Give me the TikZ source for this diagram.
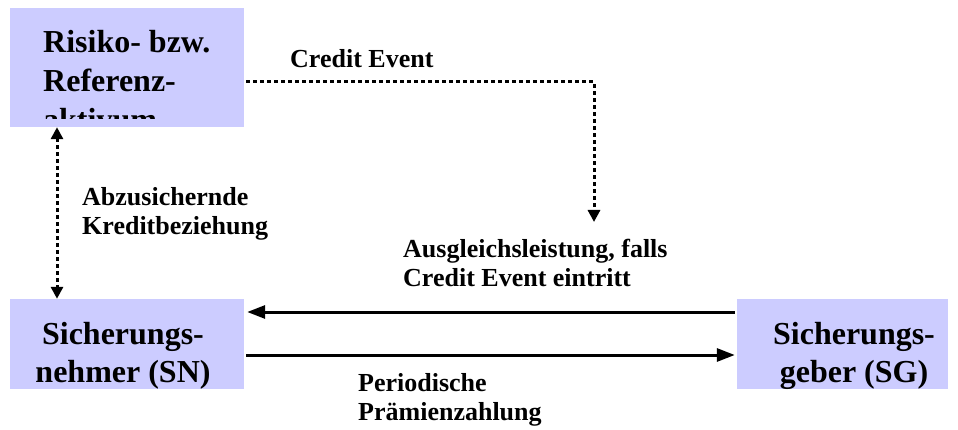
\documentclass[tikz,border=0pt]{standalone}
\usepackage{fontspec}
\setmainfont{Liberation Serif}
\usetikzlibrary{arrows.meta,positioning}
\definecolor{boxcolor}{RGB}{204,204,255}

\begin{document}
\begin{tikzpicture}[x=1pt,y=-1pt,font=\bfseries]
 \tikzstyle{party}=[fill=boxcolor,inner sep=0pt,minimum height=90pt]
 \tikzstyle{partytext}=[font=\bfseries\fontsize{32}{38}\selectfont,align=center,inner sep=0pt]
 \tikzstyle{flowtext}=[font=\bfseries\fontsize{26}{29}\selectfont,align=left,anchor=base west,inner sep=0pt]
 \tikzstyle{flow}=[line width=3pt,-{Triangle[length=18pt,width=13pt]}]
 \tikzstyle{link}=[line width=3pt,dash pattern=on 3.5pt off 3.5pt,-{Triangle[length=12pt,width=12pt]}]

 \useasboundingbox (0,0) rectangle (958,430);

   \node[party,minimum width=234pt,minimum height=119pt] (ref) at (127,67.5) {};
   \node[party,minimum width=234pt] (sn) at (127,344) {};
   \node[party,minimum width=211pt] (sg) at (842.5,344) {};

   \begin{scope}
    \clip (ref.north west) rectangle ([yshift=9pt]ref.south east);
    \node[partytext,align=left,anchor=base west,font=\bfseries\fontsize{32}{39}\selectfont] (reftext) at (43,131) {Risiko- bzw.\\Referenz-\\aktivum};
   \end{scope}
   \node[partytext,anchor=base] (sntext) at (123,382) {Sicherungs-\\nehmer (SN)};
   \node[partytext,anchor=base] (sgtext) at (854,382) {Sicherungs-\\geber (SG)};

   \node[flowtext] (credit) at (290,68) {Credit Event};
   \node[flowtext] (secured) at (82,235) {Abzusichernde\\Kreditbeziehung};
   \node[flowtext] (payout) at (403,287) {Ausgleichsleistung, falls\\Credit Event eintritt};
   \node[flowtext] (premium) at (358,420) {Periodische\\Prämienzahlung};

   \coordinate (drop) at (594,222);

   \draw[link,shorten <=2pt] ([yshift=-14.5pt]ref.east) -| (drop);
   \draw[link,{Triangle[length=12pt,width=12pt]}-{Triangle[length=12pt,width=12pt]}]
     ([xshift=-70pt]ref.south) -- ([xshift=-70pt]sn.north);
   \draw[flow,shorten <=2pt,shorten >=3pt] ([yshift=32pt]sg.west) -- ([yshift=32pt]sn.east);
   \draw[flow,shorten <=2pt,shorten >=2pt] ([yshift=-11pt]sn.east) -- ([yshift=-11pt]sg.west);

\end{tikzpicture}
\end{document}
